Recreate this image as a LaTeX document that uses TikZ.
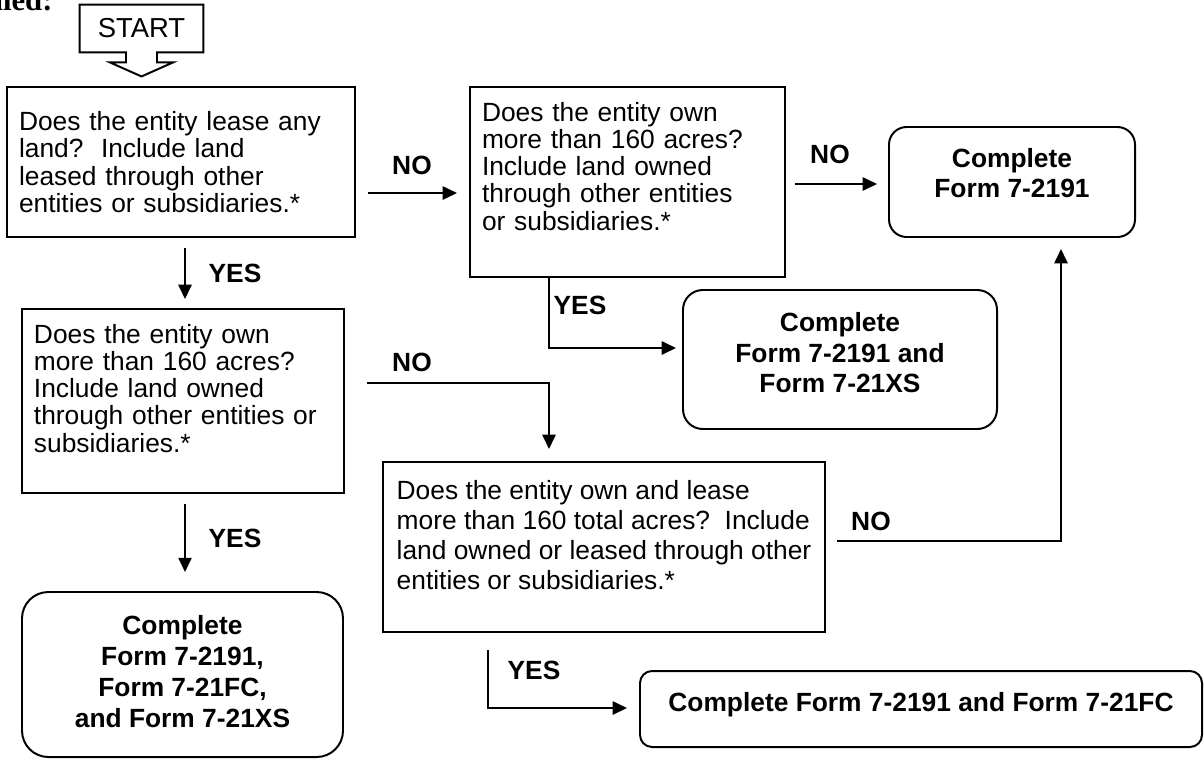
\documentclass[tikz,border=0pt]{standalone}
\usepackage{fontspec}
\setmainfont{Liberation Sans}
\newfontfamily\headfont{Liberation Serif}
\usetikzlibrary{arrows.meta, positioning, calc}
\newdimen\pxu \pxu=0.016cm
\newcommand{\padb}[1]{\rule[-#1\pxu]{0pt}{#1\pxu}}

\begin{document}
\begin{tikzpicture}[
    x=0.016cm, y=-0.016cm,
    line/.style={line width=0.9pt},
    qbox/.style={rectangle, draw, line width=0.9pt, align=left, inner xsep=12*\pxu, inner ysep=0pt, font=\fontsize{12}{12.4}\selectfont},
    fbox/.style={rectangle, draw, line width=0.9pt, align=center, inner sep=0pt, font=\bfseries\fontsize{12}{13.8}\selectfont},
    lbl/.style={font=\bfseries\fontsize{12}{12}\selectfont, inner sep=0pt},
    arr/.style={-{Triangle[length=6.5pt, width=6pt]}, line width=0.9pt}
]
\useasboundingbox (0,0) rectangle (1204,759);
\node[anchor=base east, inner sep=0pt, font=\headfont\bfseries\fontsize{14}{14}\selectfont] (head) at (53,10) {filed:};
\node[inner sep=0pt, minimum width=123*\pxu, minimum height=47*\pxu, font=\fontsize{12.5}{12.5}\selectfont] (start) at (141.5,28.5) {START};
\draw[line] (start.south west) |- (start.north east) |- ([shift={(15.5,0)}]start.south) -- ++(0,10) -- ++(16,0)
    -- ([shift={(0,24)}]start.south) -- ++(-31.5,-14) -- ++(16,0) -- ([shift={(-15.5,0)}]start.south) -- cycle;
\node[qbox, text width=324*\pxu, minimum height=150*\pxu] (lease) at (181,162) {Does the entity lease any\\land?\ \ Include land\\leased through other\\entities or subsidiaries.*};
\node[qbox, text width=291*\pxu, minimum height=190*\pxu] (ownA) at (627.5,182) {Does the entity own\\more than 160 acres?\\Include land owned\\through other entities\\or subsidiaries.*\padb{32}};
\node[fbox, rounded corners=8pt, minimum width=246*\pxu, minimum height=110*\pxu] (form1) at (1012,182) {Complete\\Form 7-2191\padb{18}};
\node[qbox, text width=298*\pxu, minimum height=184*\pxu] (ownB) at (183,401) {Does the entity own\\more than 160 acres?\\Include land owned\\through other entities or\\subsidiaries.*\padb{26}};
\node[fbox, rounded corners=9pt, minimum width=314*\pxu, minimum height=139*\pxu] (form2) at (840,359.5) {Complete\\Form 7-2191 and\\Form 7-21XS\padb{14}};
\node[qbox, inner xsep=0pt, minimum width=442*\pxu, minimum height=170*\pxu, font=\fontsize{12}{13.7}\selectfont] (total) at (604,547) {Does the entity own and lease\\more than 160 total acres?\ \ Include\\land owned or leased through other\\entities or subsidiaries.*\padb{24}};
\node[fbox, rounded corners=12pt, minimum width=321*\pxu, minimum height=165*\pxu, font=\bfseries\fontsize{12}{14}\selectfont] (form3) at (182.5,674.5) {Complete\\Form 7-2191,\\Form 7-21FC,\\and Form 7-21XS\padb{6}};
\node[fbox, rounded corners=5.5pt, minimum width=562*\pxu, minimum height=76*\pxu] (form4) at (921,709) {Complete Form 7-2191 and Form 7-21FC\padb{14}};
\node[lbl] (no1) at (412,165) {NO};
\node[lbl] (no2) at (830,154) {NO};
\node[lbl] (no3) at (412,362) {NO};
\node[lbl] (no4) at (871,521) {NO};
\node[lbl] (yes1) at (235,273) {YES};
\node[lbl] (yes2) at (580,305) {YES};
\node[lbl] (yes3) at (534,670) {YES};
\node[lbl] (yes4) at (235,538) {YES};
\draw[arr] ([shift={(12,31)}]lease.east) -- ([shift={(-12,11)}]ownA.west);
\draw[arr] ([shift={(9,2)}]ownA.east) -- ([shift={(-11,2)}]form1.west);
\draw[arr] ([shift={(4,10)}]lease.south) -- ([shift={(2,-9)}]ownB.north);
\draw[arr] ([shift={(-78.5,0)}]ownA.south) |- ([shift={(-6,-11.5)}]form2.west);
\draw[arr] ([shift={(22,-18)}]ownB.east) -| ([shift={(-55,-12)}]total.north);
\draw[arr] ([shift={(2,10)}]ownB.south) -- ([shift={(2.5,-19)}]form3.north);
\draw[arr] ([shift={(-116,17)}]total.south) |- ([shift={(-12,-1)}]form4.west);
\draw[arr] ([shift={(11,-6)}]total.east) -| ([shift={(49,11)}]form1.south);
\end{tikzpicture}
\end{document}
